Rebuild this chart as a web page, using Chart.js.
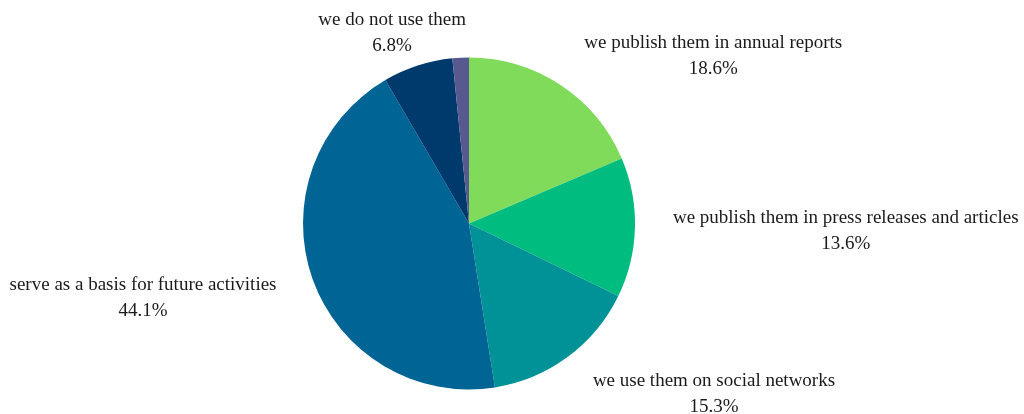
<!DOCTYPE html>
<html>
<head>
<meta charset="utf-8">
<script src="https://cdn.jsdelivr.net/npm/chart.js@4"></script>
<style>
  html, body { margin: 0; padding: 0; background: #fff; }
  #wrap { width: 1024px; height: 414px; }
</style>
</head>
<body>
<div id="wrap"><canvas id="pieChart" width="1024" height="414"></canvas></div>
<script>
// How the results are used (share of answers, %)
const labels = [
  'we publish them in annual reports',
  'we publish them in press releases and articles',
  'we use them on social networks',
  'serve as a basis for future activities',
  'we do not use them',
  ''
];
const values = [18.6, 13.6, 15.3, 44.1, 6.8, 1.6];
const colors = ['#80db5a', '#00bc7e', '#009296', '#006595', '#003a6c', '#58598f'];

// Draws each slice's name and percentage outside the pie
const outsideLabels = {
  id: 'outsideLabels',
  afterDatasetsDraw(chart) {
    const ctx = chart.ctx;
    const meta = chart.getDatasetMeta(0);
    ctx.save();
    ctx.font = '19px "Liberation Serif", "Times New Roman", serif';
    ctx.fillStyle = '#1a1a1a';
    ctx.textAlign = 'center';
    ctx.textBaseline = 'middle';
    meta.data.forEach((arc, i) => {
      if (!labels[i]) return;
      const mid = (arc.startAngle + arc.endAngle) / 2;
      const dx = Math.cos(mid), dy = Math.sin(mid);
      const r = arc.outerRadius + 32;
      const ax = arc.x + dx * r;
      const ay = arc.y + dy * r;
      const lines = [labels[i], values[i].toFixed(1) + '%'];
      const w = Math.max(...lines.map(t => ctx.measureText(t).width));
      const f = Math.min(1, Math.max(0, (Math.abs(dx) - 0.25) / 0.3));
      const cx = ax + Math.sign(dx) * (w / 2 + 6) * f;
      const cy = ay + 3 + (dy > 0.5 ? 8 : dy > 0.2 ? 5 : dy < -0.8 ? -5 : 0);
      ctx.fillText(lines[0], cx, cy - 13);
      ctx.fillText(lines[1], cx, cy + 13);
    });
    ctx.restore();
  }
};

const ctx = document.getElementById('pieChart').getContext('2d');
new Chart(ctx, {
  type: 'pie',
  data: {
    labels: labels,
    datasets: [{
      data: values,
      backgroundColor: colors,
      borderWidth: 0
    }]
  },
  options: {
    responsive: false,
    animation: false,
    layout: { padding: { left: 303, right: 389, top: 57, bottom: 24 } },
    plugins: {
      legend: { display: false },
      tooltip: { enabled: false }
    }
  },
  plugins: [outsideLabels]
});
</script>
</body>
</html>
